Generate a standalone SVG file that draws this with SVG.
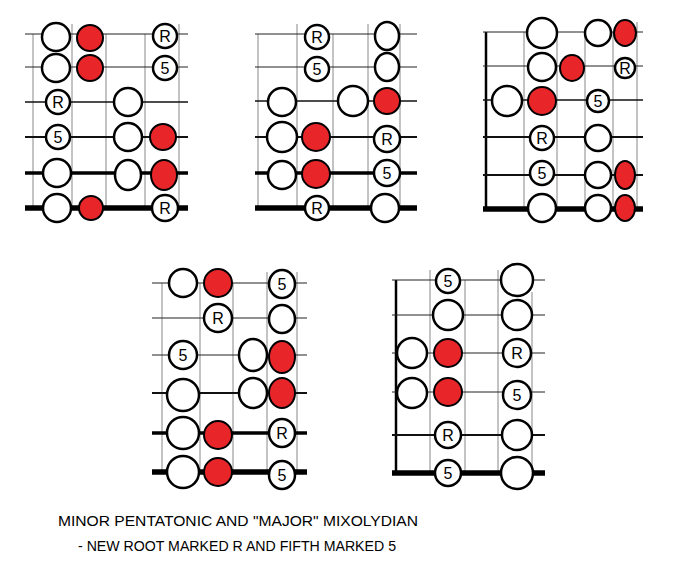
<svg xmlns="http://www.w3.org/2000/svg" width="700" height="571" viewBox="0 0 700 571">
<style>
.v{stroke:#888;stroke-width:1}
.s1{stroke:#222;stroke-width:1}
.s3{stroke:#111;stroke-width:1.6}
.s4{stroke:#111;stroke-width:2.2}
.s5{stroke:#000;stroke-width:3.5}
.s6{stroke:#000;stroke-width:5.5}
.n{stroke:#000;stroke-width:2.5}
.w{fill:#fff;stroke:#000;stroke-width:2.5}
.r{fill:#e8262a;stroke:#000;stroke-width:2}
text{font-family:"Liberation Sans",Arial,sans-serif;fill:#000}
.l{font-size:16px;text-anchor:middle;dominant-baseline:central}
</style>
<rect width="700" height="571" fill="#fff"/>
<g id="d1">
<g><line class="v" x1="33" y1="34" x2="33" y2="208"/><line class="v" x1="72" y1="24" x2="72" y2="208"/><line class="v" x1="106" y1="34" x2="106" y2="208"/><line class="v" x1="145" y1="34" x2="145" y2="208"/><line class="v" x1="179" y1="24" x2="179" y2="208"/>
<line class="s1" x1="25" y1="34" x2="188" y2="34"/><line class="s1" x1="25" y1="67" x2="188" y2="67"/><line class="s3" x1="25" y1="102" x2="188" y2="102"/><line class="s4" x1="25" y1="137" x2="188" y2="137"/><line class="s5" x1="25" y1="173" x2="188" y2="173"/><line class="s6" x1="25" y1="208" x2="188" y2="208"/></g>
<circle class="w" cx="56" cy="37" r="14"/><circle class="r" cx="90" cy="38" r="13"/><circle class="w" cx="165" cy="36" r="12"/><text class="l" x="165" y="36">R</text>
<circle class="w" cx="56" cy="68" r="14"/><circle class="r" cx="90" cy="68" r="13"/><circle class="w" cx="165" cy="68" r="12"/><text class="l" x="165" y="68">5</text>
<circle class="w" cx="58" cy="102" r="12"/><text class="l" x="58" y="102">R</text><circle class="w" cx="128" cy="102" r="14"/>
<circle class="w" cx="58" cy="137" r="12"/><text class="l" x="58" y="137">5</text><circle class="w" cx="128" cy="137" r="14"/><circle class="r" cx="163" cy="137" r="13"/>
<circle class="w" cx="57" cy="173" r="14"/><ellipse class="w" cx="128" cy="175" rx="13" ry="15"/><ellipse class="r" cx="164" cy="175" rx="13" ry="15"/>
<circle class="w" cx="57" cy="208" r="14"/><circle class="r" cx="91" cy="208" r="12"/><circle class="w" cx="165" cy="208" r="13"/><text class="l" x="165" y="208">R</text>
</g>
<g id="d2">
<g><line class="v" x1="258" y1="34" x2="258" y2="208"/><line class="v" x1="297" y1="24" x2="297" y2="208"/><line class="v" x1="333" y1="34" x2="333" y2="208"/><line class="v" x1="368" y1="24" x2="368" y2="208"/><line class="v" x1="400" y1="24" x2="400" y2="208"/>
<line class="s1" x1="255" y1="34" x2="417" y2="34"/><line class="s1" x1="255" y1="67" x2="417" y2="67"/><line class="s3" x1="255" y1="101" x2="417" y2="101"/><line class="s4" x1="255" y1="137" x2="417" y2="137"/><line class="s5" x1="255" y1="173" x2="417" y2="173"/><line class="s6" x1="255" y1="208" x2="417" y2="208"/></g>
<circle class="w" cx="317" cy="37" r="12"/><text class="l" x="317" y="37">R</text><ellipse class="w" cx="387" cy="36" rx="12" ry="14"/>
<circle class="w" cx="317" cy="69" r="12"/><text class="l" x="317" y="69">5</text><ellipse class="w" cx="387" cy="67" rx="12" ry="14"/>
<circle class="w" cx="282" cy="102" r="14"/><circle class="w" cx="353" cy="101" r="15"/><circle class="r" cx="387" cy="101" r="13"/>
<circle class="w" cx="282" cy="137" r="15"/><circle class="r" cx="316" cy="137" r="14"/><circle class="w" cx="387" cy="139" r="13"/><text class="l" x="387" y="139">R</text>
<circle class="w" cx="282" cy="175" r="14"/><circle class="r" cx="316" cy="174" r="14"/><circle class="w" cx="387" cy="173" r="13"/><text class="l" x="387" y="173">5</text>
<circle class="w" cx="317" cy="208" r="12"/><text class="l" x="317" y="208">R</text><circle class="w" cx="385" cy="208" r="14"/>
</g>
<g id="d3">
<g><line class="n" x1="486" y1="32" x2="486" y2="209"/><line class="v" x1="524" y1="32" x2="524" y2="209"/><line class="v" x1="557" y1="32" x2="557" y2="209"/><line class="v" x1="585" y1="32" x2="585" y2="209"/><line class="v" x1="613" y1="32" x2="613" y2="209"/><line class="v" x1="637" y1="22" x2="637" y2="209"/>
<line class="s1" x1="483" y1="32" x2="643" y2="32"/><line class="s1" x1="483" y1="66" x2="643" y2="66"/><line class="s3" x1="483" y1="100" x2="643" y2="100"/><line class="s4" x1="483" y1="137" x2="643" y2="137"/><line class="s4" x1="483" y1="175" x2="643" y2="175"/><line class="s6" x1="483" y1="209" x2="643" y2="209"/></g>
<circle class="w" cx="542" cy="33" r="15"/><circle class="w" cx="598" cy="33" r="13"/><ellipse class="r" cx="625" cy="33" rx="11" ry="13"/>
<circle class="w" cx="542" cy="67" r="14"/><ellipse class="r" cx="572" cy="68" rx="12" ry="13"/><circle class="w" cx="625" cy="68" r="10"/><text class="l" x="625" y="68">R</text>
<circle class="w" cx="507" cy="101" r="15"/><circle class="r" cx="542" cy="101" r="14"/><circle class="w" cx="598" cy="101" r="11"/><text class="l" x="598" y="101">5</text>
<circle class="w" cx="542" cy="138" r="12"/><text class="l" x="542" y="138">R</text><circle class="w" cx="598" cy="138" r="13"/>
<circle class="w" cx="542" cy="173" r="12"/><text class="l" x="542" y="173">5</text><circle class="w" cx="598" cy="175" r="13"/><ellipse class="r" cx="625" cy="175" rx="10" ry="14"/>
<circle class="w" cx="542" cy="208" r="14"/><circle class="w" cx="598" cy="208" r="13"/><ellipse class="r" cx="625" cy="208" rx="10" ry="13"/>
</g>
<g id="d4">
<g><line class="v" x1="162" y1="283" x2="162" y2="472"/><line class="v" x1="200" y1="283" x2="200" y2="472"/><line class="v" x1="233" y1="283" x2="233" y2="472"/><line class="v" x1="267" y1="272" x2="267" y2="472"/><line class="v" x1="297" y1="272" x2="297" y2="472"/>
<line class="s1" x1="152" y1="283" x2="307" y2="283"/><line class="s1" x1="152" y1="318" x2="307" y2="318"/><line class="s1" x1="152" y1="355" x2="307" y2="355"/><line class="s4" x1="152" y1="393" x2="307" y2="393"/><line class="s5" x1="152" y1="433" x2="307" y2="433"/><line class="s6" x1="152" y1="472" x2="307" y2="472"/></g>
<circle class="w" cx="183" cy="283" r="14"/><circle class="r" cx="218" cy="283" r="14"/><ellipse class="w" cx="282" cy="284" rx="13" ry="14"/><text class="l" x="282" y="284">5</text>
<circle class="w" cx="218" cy="318" r="14"/><text class="l" x="218" y="318">R</text><ellipse class="w" cx="282" cy="319" rx="13" ry="14"/>
<circle class="w" cx="183" cy="355" r="14"/><text class="l" x="183" y="355">5</text><ellipse class="w" cx="253" cy="355" rx="14" ry="16"/><ellipse class="r" cx="282" cy="357" rx="13" ry="16"/>
<circle class="w" cx="183" cy="395" r="16"/><ellipse class="w" cx="253" cy="393" rx="14" ry="15"/><ellipse class="r" cx="282" cy="393" rx="13" ry="15"/>
<circle class="w" cx="183" cy="433" r="16"/><circle class="r" cx="218" cy="435" r="14"/><ellipse class="w" cx="282" cy="433" rx="13" ry="14"/><text class="l" x="282" y="433">R</text>
<circle class="w" cx="183" cy="472" r="16"/><circle class="r" cx="218" cy="472" r="14"/><ellipse class="w" cx="282" cy="475" rx="13" ry="14"/><text class="l" x="282" y="475">5</text>
</g>
<g id="d5">
<g><line class="n" x1="396" y1="280" x2="396" y2="473"/><line class="v" x1="430" y1="270" x2="430" y2="473"/><line class="v" x1="465" y1="280" x2="465" y2="473"/><line class="v" x1="498" y1="270" x2="498" y2="473"/><line class="v" x1="532" y1="292" x2="532" y2="473"/>
<line class="s1" x1="392" y1="280" x2="545" y2="280"/><line class="s1" x1="392" y1="315" x2="545" y2="315"/><line class="s1" x1="392" y1="353" x2="545" y2="353"/><line class="s1" x1="392" y1="392" x2="545" y2="392"/><line class="s4" x1="392" y1="435" x2="545" y2="435"/><line class="s6" x1="392" y1="473" x2="545" y2="473"/></g>
<circle class="w" cx="448" cy="281" r="12"/><text class="l" x="448" y="281">5</text><circle class="w" cx="517" cy="280" r="16"/>
<circle class="w" cx="448" cy="315" r="15"/><circle class="w" cx="517" cy="315" r="15"/>
<circle class="w" cx="412" cy="353" r="15"/><circle class="r" cx="448" cy="353" r="14"/><circle class="w" cx="517" cy="353" r="14"/><text class="l" x="517" y="353">R</text>
<circle class="w" cx="412" cy="393" r="15"/><circle class="r" cx="448" cy="392" r="14"/><circle class="w" cx="517" cy="395" r="14"/><text class="l" x="517" y="395">5</text>
<circle class="w" cx="448" cy="435" r="13"/><text class="l" x="448" y="435">R</text><circle class="w" cx="517" cy="435" r="15"/>
<circle class="w" cx="448" cy="473" r="13"/><text class="l" x="448" y="473">5</text><circle class="w" cx="517" cy="473" r="16"/>
</g>
<g id="caption">
<text x="58" y="526" font-size="15" textLength="360" lengthAdjust="spacingAndGlyphs">MINOR PENTATONIC AND "MAJOR" MIXOLYDIAN</text>
<text x="78" y="551" font-size="15" textLength="318" lengthAdjust="spacingAndGlyphs">- NEW ROOT MARKED R AND FIFTH MARKED 5</text>
</g>
</svg>
